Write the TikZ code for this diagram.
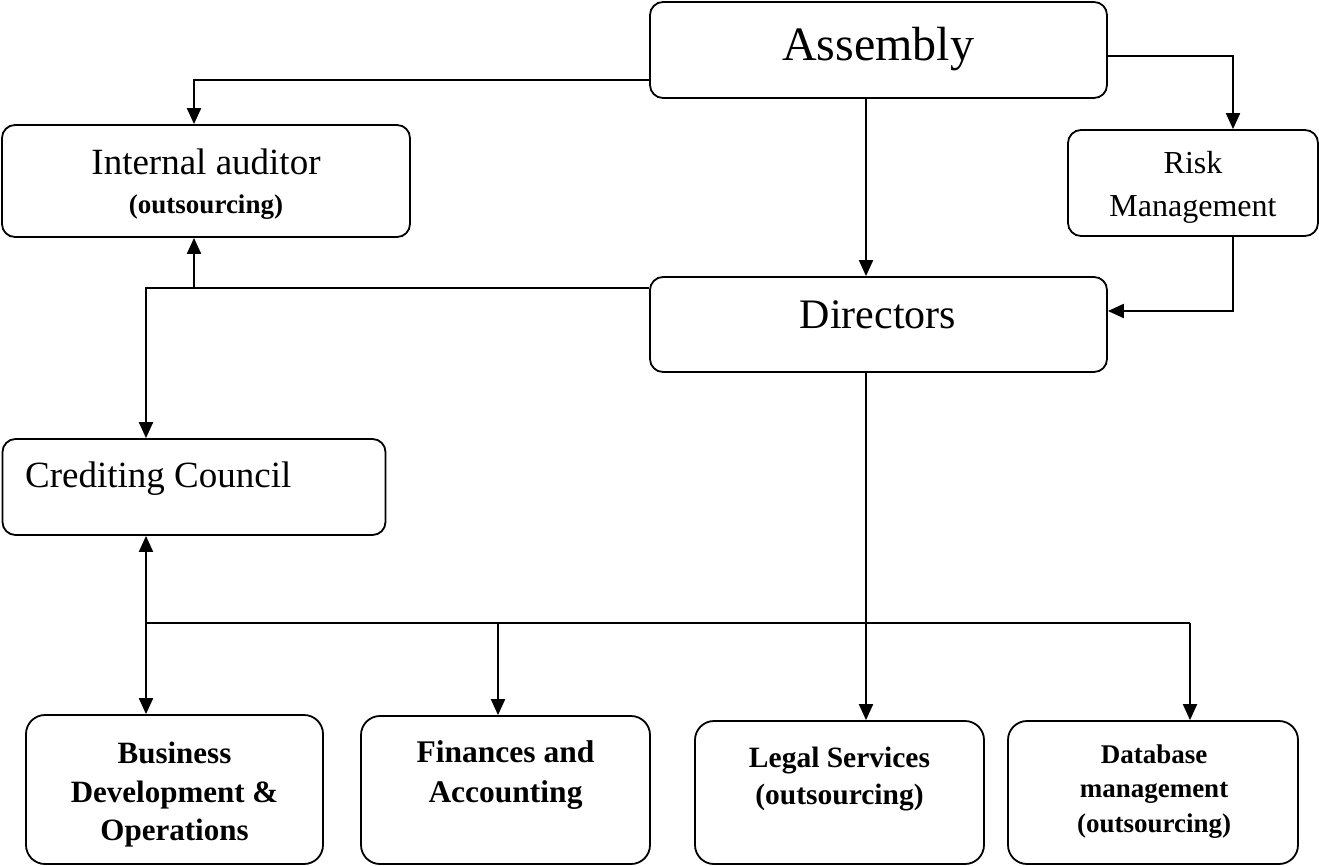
\documentclass[tikz,border=0pt]{standalone}
\usepackage{fontspec}
\setmainfont{Liberation Serif}
\usetikzlibrary{arrows.meta}
\begin{document}
\begin{tikzpicture}[x=1pt,y=-1pt,
  box/.style={draw, line width=1.8pt, rounded corners=13pt, inner sep=0pt},
  bbox/.style={box, rounded corners=19pt},
  conn/.style={line width=2pt},
  arr/.style={conn, -{Triangle[length=16pt,width=14pt]}},
  txt/.style={inner sep=0pt, align=center},
]
\useasboundingbox (0,0) rectangle (1319,865);

% boxes
\node[box, minimum width=457pt, minimum height=96pt] (asm) at (878.5,50) {};
\node[box, minimum width=408pt, minimum height=112pt] (ia) at (206,181) {};
\node[box, minimum width=250pt, minimum height=106pt] (rm) at (1193,183) {};
\node[box, minimum width=457pt, minimum height=95pt] (dir) at (878.5,324.5) {};
\node[box, minimum width=383pt, minimum height=96pt] (cc) at (194,487) {};
\node[bbox, minimum width=297pt, minimum height=149pt] (bd) at (174.5,789.5) {};
\node[bbox, minimum width=289pt, minimum height=148pt] (fin) at (505.5,790) {};
\node[bbox, minimum width=289pt, minimum height=143pt] (leg) at (839.5,792.5) {};
\node[bbox, minimum width=290pt, minimum height=143pt] (db) at (1153,792.5) {};

% texts
\node[txt, anchor=base, font=\fontsize{48}{48}\selectfont] (asmt) at (878,60) {Assembly};
\node[txt, anchor=base, font=\fontsize{37}{37}\selectfont] (iat) at (206,174) {Internal auditor};
\node[txt, anchor=base, font=\fontsize{27}{27}\selectfont\bfseries] (iat2) at (206,213) {(outsourcing)};
\node[txt, anchor=north, font=\fontsize{32}{43}\selectfont] (rmt) at (1193,151) {Risk\\Management};
\node[txt, anchor=base, font=\fontsize{42}{42}\selectfont] (dirt) at (878,328) {Directors};
\node[txt, anchor=base west, font=\fontsize{37}{37}\selectfont] (cct) at (25,487) {Crediting Council};
\node[txt, anchor=north, font=\fontsize{31}{38.5}\selectfont\bfseries] (bdt) at (174.5,742) {Business\\Development \&\\Operations};
\node[txt, anchor=north, font=\fontsize{31.5}{40}\selectfont\bfseries] (fint) at (505.5,740.5) {Finances and\\Accounting};
\node[txt, anchor=north, font=\fontsize{29.5}{37}\selectfont\bfseries] (legt) at (839.5,747) {Legal Services\\(outsourcing)};
\node[txt, anchor=north, font=\fontsize{27}{34.5}\selectfont\bfseries] (dbt) at (1154,744.5) {Database\\management\\(outsourcing)};

% helper coordinates
\coordinate (xa) at (194,0);
\coordinate (xb) at (146,0);
\coordinate (xc) at (866,0);
\coordinate (xd) at (1233,0);
\coordinate (xf) at (498,0);
\coordinate (xg) at (1190,0);
\coordinate (ya) at (0,80);
\coordinate (yb) at (0,56);
\coordinate (yc) at (0,288);
\coordinate (yd) at (0,311);
\coordinate (bus) at (0,623);
\coordinate (busL) at (xb |- bus);
\coordinate (busR) at (xg |- bus);
\coordinate (busM) at (xc |- bus);
\coordinate (busF) at (xf |- bus);
\coordinate (junA) at (xa |- yc);

% connectors
\draw[arr] (asm.west |- ya) -| (ia.north -| xa);
\draw[arr] (asm.east |- yb) -| (rm.north -| xd);
\draw[arr] (asm.south -| xc) -- (dir.north -| xc);
\draw[arr] (rm.south -| xd) |- (dir.east |- yd);
\draw[arr] (dir.west |- yc) -| (cc.north -| xb);
\draw[arr] (junA) -- (ia.south -| xa);
\draw[conn] (dir.south -| xc) -- (busM);
\draw[conn] (busL) -- (busR);
\draw[arr] (busL) -- (cc.south -| xb);
\draw[arr] (busL) -- (bd.north -| xb);
\draw[arr] (busF) -- (fin.north -| xf);
\draw[arr] (busM) -- (leg.north -| xc);
\draw[arr] (busR) -- (db.north -| xg);
\end{tikzpicture}
\end{document}
